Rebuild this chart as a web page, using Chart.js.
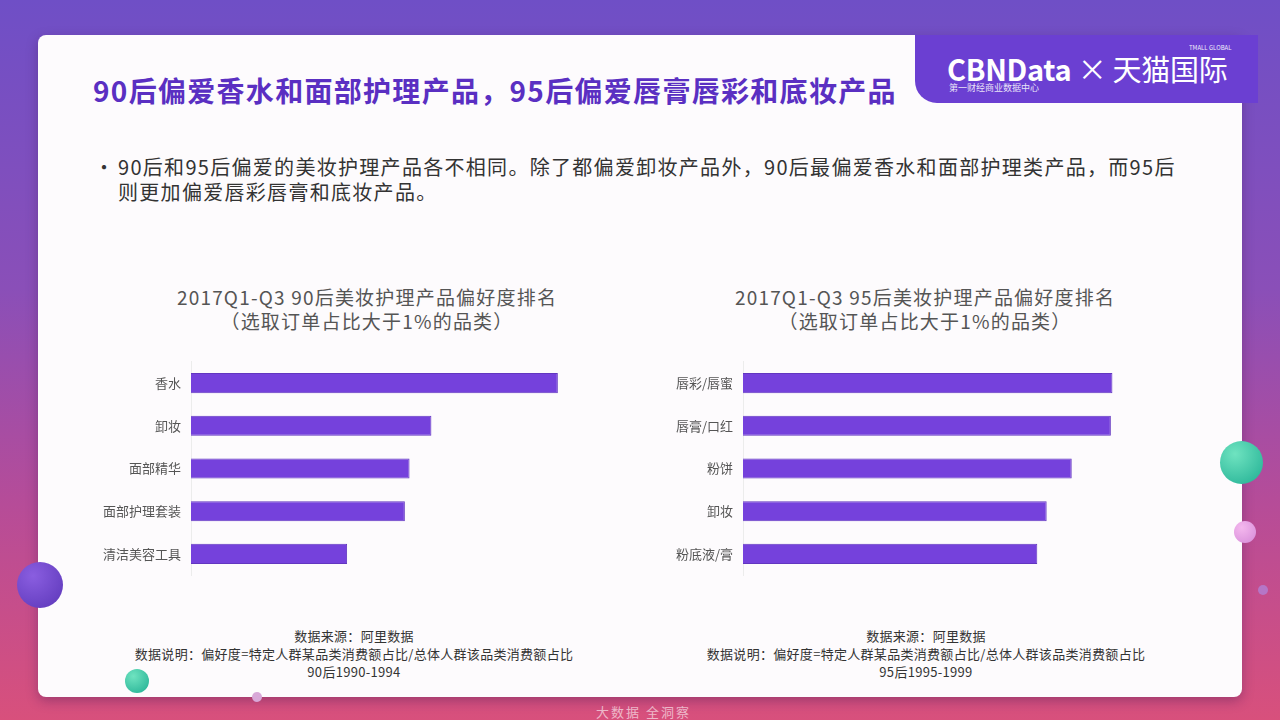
<!DOCTYPE html>
<html>
<head>
<meta charset="utf-8">
<script src="https://cdn.jsdelivr.net/npm/chart.js@4/dist/chart.umd.min.js"></script>
<style>
  html, body { margin: 0; padding: 0; }
  body {
    width: 1280px; height: 720px; position: relative; overflow: hidden;
    font-family: "Noto Sans CJK SC", "Noto Sans", sans-serif;
    background: linear-gradient(180deg, #6f4fc6 0%, #8a4fb8 40%, #b64c98 70%, #d8507c 100%);
  }
  .card {
    position: absolute; left: 38px; top: 35px; width: 1204px; height: 662px;
    background: #fdfbfd; border-radius: 8px;
    box-shadow: 0 4px 12px rgba(60,20,80,0.35);
  }
  .logo {
    position: absolute; left: 915px; top: 35px; width: 343px; height: 68px;
    background: #6b3fd2; border-bottom-left-radius: 22px; color: #fff;
  }
  .logo .main { position: absolute; left: 32px; top: 12px; font-size: 29px; font-weight: bold; letter-spacing: -0.3px; white-space: nowrap; }
  .logo .main span { font-weight: normal; }
  .logo .sub { position: absolute; left: 34px; top: 46px; font-size: 9px; opacity: 0.85; }
  .logo .tg { position: absolute; left: 274px; top: 8px; font-size: 6px; opacity: 0.9; }
  .title { position: absolute; left: 93px; top: 70px; font-size: 28px; letter-spacing: 1.3px; font-weight: bold; color: #5a2fc2; white-space: nowrap; }
  .bullet { position: absolute; left: 94px; top: 154px; font-size: 20px; letter-spacing: 1.3px; color: #333; line-height: 25px; white-space: nowrap; }
  .bullet .dot { position: absolute; left: 0; top: 0; }
  .bullet .txt { margin-left: 24px; }
  .ctitle { position: absolute; width: 560px; text-align: center; font-size: 19px; letter-spacing: 1.2px; color: #555; line-height: 24px; }
  .note { position: absolute; width: 600px; text-align: center; font-size: 13px; letter-spacing: 0.3px; color: #333; line-height: 18px; }
  .box { position: absolute; }
  .dotc { position: absolute; border-radius: 50%; }
  .wm { position: absolute; left: 596px; top: 702px; font-size: 13px; color: rgba(255,255,255,0.6); letter-spacing: 2px; }
</style>
</head>
<body>
<div class="card"></div>
<div class="logo">
  <div class="tg">TMALL GLOBAL</div>
  <div class="main">CBNData <span>× 天猫国际</span></div>
  <div class="sub">第一财经商业数据中心</div>
</div>
<div class="title">90后偏爱香水和面部护理产品，95后偏爱唇膏唇彩和底妆产品</div>
<div class="bullet"><span class="dot">•</span><div class="txt">90后和95后偏爱的美妆护理产品各不相同。除了都偏爱卸妆产品外，90后最偏爱香水和面部护理类产品，而95后<br>则更加偏爱唇彩唇膏和底妆产品。</div></div>

<div class="ctitle" style="left:87px; top:285px;">2017Q1-Q3 90后美妆护理产品偏好度排名<br>（选取订单占比大于1%的品类）</div>
<div class="ctitle" style="left:645px; top:285px;">2017Q1-Q3 95后美妆护理产品偏好度排名<br>（选取订单占比大于1%的品类）</div>

<div class="box" style="left:90px; top:352px; width:510px; height:233px;"><canvas id="c90"></canvas></div>
<div class="box" style="left:640px; top:352px; width:510px; height:233px;"><canvas id="c95"></canvas></div>

<div class="note" style="left:54px; top:627px;">数据来源：阿里数据<br>数据说明：偏好度=特定人群某品类消费额占比/总体人群该品类消费额占比<br>90后1990-1994</div>
<div class="note" style="left:626px; top:627px;">数据来源：阿里数据<br>数据说明：偏好度=特定人群某品类消费额占比/总体人群该品类消费额占比<br>95后1995-1999</div>

<div class="dotc" style="left:17px; top:562px; width:46px; height:46px; background: radial-gradient(circle at 35% 30%, #8a5ee0, #5b36b8);"></div>
<div class="dotc" style="left:125px; top:669px; width:24px; height:24px; background: radial-gradient(circle at 35% 30%, #6fe3c0, #1fae92);"></div>
<div class="dotc" style="left:252px; top:692px; width:10px; height:10px; background: #d8a8d8;"></div>
<div class="dotc" style="left:1220px; top:441px; width:43px; height:43px; background: radial-gradient(circle at 35% 30%, #6fe3c0, #1fae92);"></div>
<div class="dotc" style="left:1234px; top:521px; width:22px; height:22px; background: radial-gradient(circle at 35% 30%, #f4b8ee, #d58ad8);"></div>
<div class="dotc" style="left:1258px; top:585px; width:10px; height:10px; background: #b576c6;"></div>
<div class="wm">大数据 全洞察</div>

<script>
// 90后 preference ranking
var cats90 = ['香水', '卸妆', '面部精华', '面部护理套装', '清洁美容工具'];
var vals90 = [2.35, 1.54, 1.40, 1.37, 1.00];

// 95后 preference ranking
var cats95 = ['唇彩/唇蜜', '唇膏/口红', '粉饼', '卸妆', '粉底液/膏'];
var vals95 = [2.36, 2.35, 2.10, 1.94, 1.88];

Chart.defaults.font.family = '"Noto Sans CJK SC", "Noto Sans", sans-serif';

function makeBars(id, cats, vals, max, axisW) {
  new Chart(document.getElementById(id), {
    type: 'bar',
    data: {
      labels: cats,
      datasets: [{
        data: vals,
        backgroundColor: '#7541dc',
        borderColor: '#6236c0',
        borderWidth: 1,
        barPercentage: 0.47,
        categoryPercentage: 1
      }]
    },
    options: {
      indexAxis: 'y',
      responsive: true,
      maintainAspectRatio: false,
      animation: false,
      layout: { padding: 0 },
      plugins: { legend: { display: false }, tooltip: { enabled: false } },
      scales: {
        x: { display: false, min: 0, max: max },
        y: {
          grid: { display: false },
          border: { display: true, color: '#ececec' },
          ticks: { color: '#555', font: { size: 13 }, padding: 2 },
          afterFit: function(s) { s.width = axisW; }
        }
      }
    }
  });
}

makeBars('c90', cats90, vals90, 2.62, 101);
makeBars('c95', cats95, vals95, 2.60, 103);
</script>
</body>
</html>
